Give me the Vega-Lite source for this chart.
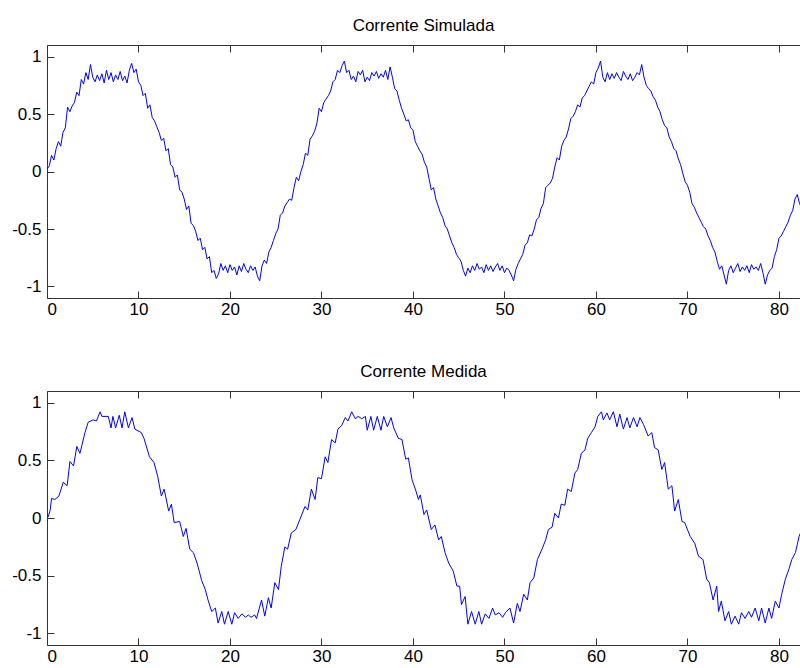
{
  "$schema": "https://vega.github.io/schema/vega-lite/v6.json",
  "background": "white",
  "padding": {"left": 7, "top": 16, "right": 0, "bottom": 0},
  "spacing": 42,
  "config": {
    "view": {"stroke": null},
    "font": "Liberation Sans",
    "axis": {
      "grid": false,
      "domainColor": "#333333",
      "tickColor": "#333333",
      "labelColor": "#000000",
      "labelFont": "Liberation Sans",
      "labelFontSize": 17,
      "tickSize": 7,
      "domainWidth": 1,
      "tickWidth": 1,
      "title": null
    },
    "title": {"font": "Liberation Sans", "fontSize": 17, "fontWeight": "normal", "color": "#000000", "anchor": "middle", "offset": 10}
  },
  "datasets": {
    "sim": [
      {"t":0,"i":0.02},{"t":0.25,"i":0.05},{"t":0.5,"i":0.14},{"t":0.75,"i":0.10},{"t":1.0,"i":0.20},{"t":1.25,"i":0.26},{"t":1.5,"i":0.22},{"t":1.75,"i":0.34},{"t":2.0,"i":0.38},{"t":2.25,"i":0.56},{"t":2.5,"i":0.52},{"t":2.75,"i":0.57},{"t":3.0,"i":0.60},{"t":3.25,"i":0.69},{"t":3.5,"i":0.66},{"t":3.75,"i":0.80},{"t":4.0,"i":0.76},{"t":4.25,"i":0.86},{"t":4.5,"i":0.80},{"t":4.75,"i":0.93},
      {"t":5.0,"i":0.82},{"t":5.25,"i":0.78},{"t":5.5,"i":0.84},{"t":5.75,"i":0.79},{"t":6.0,"i":0.85},{"t":6.25,"i":0.77},{"t":6.5,"i":0.88},{"t":6.75,"i":0.80},{"t":7.0,"i":0.86},{"t":7.25,"i":0.78},{"t":7.5,"i":0.84},{"t":7.75,"i":0.80},{"t":8.0,"i":0.87},{"t":8.25,"i":0.79},{"t":8.5,"i":0.83},{"t":8.75,"i":0.77},{"t":9.0,"i":0.88},{"t":9.25,"i":0.94},{"t":9.5,"i":0.86},{"t":9.75,"i":0.89},
      {"t":10.0,"i":0.78},{"t":10.25,"i":0.75},{"t":10.5,"i":0.66},{"t":10.75,"i":0.68},{"t":11.0,"i":0.55},{"t":11.25,"i":0.58},{"t":11.5,"i":0.47},{"t":11.75,"i":0.44},{"t":12.0,"i":0.39},{"t":12.25,"i":0.34},{"t":12.5,"i":0.27},{"t":12.75,"i":0.29},{"t":13.0,"i":0.18},{"t":13.25,"i":0.20},{"t":13.5,"i":0.06},{"t":13.75,"i":0.04},{"t":14.0,"i":-0.05},{"t":14.25,"i":-0.03},{"t":14.5,"i":-0.16},{"t":14.75,"i":-0.18},
      {"t":15.0,"i":-0.24},{"t":15.25,"i":-0.33},{"t":15.5,"i":-0.30},{"t":15.75,"i":-0.45},{"t":16.0,"i":-0.47},{"t":16.25,"i":-0.52},{"t":16.5,"i":-0.60},{"t":16.75,"i":-0.58},{"t":17.0,"i":-0.68},{"t":17.25,"i":-0.66},{"t":17.5,"i":-0.76},{"t":17.75,"i":-0.74},{"t":18.0,"i":-0.88},{"t":18.25,"i":-0.86},{"t":18.5,"i":-0.93},{"t":18.75,"i":-0.89},{"t":19.0,"i":-0.80},{"t":19.25,"i":-0.86},{"t":19.5,"i":-0.82},{"t":19.75,"i":-0.88},
      {"t":20.0,"i":-0.81},{"t":20.25,"i":-0.86},{"t":20.5,"i":-0.83},{"t":20.75,"i":-0.90},{"t":21.0,"i":-0.82},{"t":21.25,"i":-0.87},{"t":21.5,"i":-0.80},{"t":21.75,"i":-0.85},{"t":22.0,"i":-0.88},{"t":22.25,"i":-0.82},{"t":22.5,"i":-0.86},{"t":22.75,"i":-0.83},{"t":23.0,"i":-0.91},{"t":23.25,"i":-0.95},{"t":23.5,"i":-0.82},{"t":23.75,"i":-0.77},{"t":24.0,"i":-0.80},{"t":24.25,"i":-0.70},{"t":24.5,"i":-0.66},{"t":24.75,"i":-0.60},
      {"t":25.0,"i":-0.54},{"t":25.25,"i":-0.50},{"t":25.5,"i":-0.38},{"t":25.75,"i":-0.36},{"t":26.0,"i":-0.30},{"t":26.25,"i":-0.27},{"t":26.5,"i":-0.24},{"t":26.75,"i":-0.25},{"t":27.0,"i":-0.14},{"t":27.25,"i":-0.05},{"t":27.5,"i":-0.08},{"t":27.75,"i":0.00},
      {"t":28.0,"i":0.06},{"t":28.25,"i":0.16},{"t":28.5,"i":0.14},{"t":28.75,"i":0.28},{"t":29.0,"i":0.31},{"t":29.25,"i":0.35},{"t":29.5,"i":0.42},{"t":29.75,"i":0.55},{"t":30.0,"i":0.52},{"t":30.25,"i":0.60},{"t":30.5,"i":0.63},{"t":30.75,"i":0.66},{"t":31.0,"i":0.70},{"t":31.25,"i":0.78},{"t":31.5,"i":0.80},{"t":31.75,"i":0.88},{"t":32.0,"i":0.86},{"t":32.25,"i":0.92},{"t":32.5,"i":0.96},{"t":32.75,"i":0.86},
      {"t":33.0,"i":0.88},{"t":33.25,"i":0.80},{"t":33.5,"i":0.83},{"t":33.75,"i":0.78},{"t":34.0,"i":0.87},{"t":34.25,"i":0.84},{"t":34.5,"i":0.88},{"t":34.75,"i":0.78},{"t":35.0,"i":0.82},{"t":35.25,"i":0.79},{"t":35.5,"i":0.86},{"t":35.75,"i":0.83},{"t":36.0,"i":0.87},{"t":36.25,"i":0.81},{"t":36.5,"i":0.85},{"t":36.75,"i":0.82},{"t":37.0,"i":0.88},{"t":37.25,"i":0.80},{"t":37.5,"i":0.91},{"t":37.75,"i":0.82},
      {"t":38.0,"i":0.72},{"t":38.25,"i":0.70},{"t":38.5,"i":0.62},{"t":38.75,"i":0.55},{"t":39.0,"i":0.50},{"t":39.25,"i":0.44},{"t":39.5,"i":0.45},{"t":39.75,"i":0.38},{"t":40.0,"i":0.36},{"t":40.25,"i":0.26},{"t":40.5,"i":0.22},{"t":40.75,"i":0.18},{"t":41.0,"i":0.15},{"t":41.25,"i":0.08},{"t":41.5,"i":0.04},{"t":41.75,"i":-0.06},{"t":42.0,"i":-0.16},{"t":42.25,"i":-0.14},{"t":42.5,"i":-0.24},{"t":42.75,"i":-0.30},
      {"t":43.0,"i":-0.36},{"t":43.25,"i":-0.40},{"t":43.5,"i":-0.47},{"t":43.75,"i":-0.50},{"t":44.0,"i":-0.56},{"t":44.25,"i":-0.62},{"t":44.5,"i":-0.66},{"t":44.75,"i":-0.72},{"t":45.0,"i":-0.75},{"t":45.25,"i":-0.78},{"t":45.5,"i":-0.86},{"t":45.75,"i":-0.91},{"t":46.0,"i":-0.84},{"t":46.25,"i":-0.88},{"t":46.5,"i":-0.82},{"t":46.75,"i":-0.86},{"t":47.0,"i":-0.80},{"t":47.25,"i":-0.85},{"t":47.5,"i":-0.83},{"t":47.75,"i":-0.88},
      {"t":48.0,"i":-0.81},{"t":48.25,"i":-0.86},{"t":48.5,"i":-0.82},{"t":48.75,"i":-0.87},{"t":49.0,"i":-0.83},{"t":49.25,"i":-0.80},{"t":49.5,"i":-0.86},{"t":49.75,"i":-0.82},{"t":50.0,"i":-0.88},{"t":50.25,"i":-0.84},{"t":50.5,"i":-0.86},{"t":50.75,"i":-0.90},{"t":51.0,"i":-0.95},{"t":51.25,"i":-0.85},{"t":51.5,"i":-0.80},{"t":51.75,"i":-0.76},{"t":52.0,"i":-0.72},{"t":52.25,"i":-0.64},{"t":52.5,"i":-0.62},{"t":52.75,"i":-0.55},
      {"t":53.0,"i":-0.56},{"t":53.25,"i":-0.50},{"t":53.5,"i":-0.42},{"t":53.75,"i":-0.40},{"t":54.0,"i":-0.32},{"t":54.25,"i":-0.28},{"t":54.5,"i":-0.14},{"t":54.75,"i":-0.12},{"t":55.0,"i":-0.10},{"t":55.25,"i":-0.06},{"t":55.5,"i":0.04},{"t":55.75,"i":0.12},{"t":56.0,"i":0.10},{"t":56.25,"i":0.22},{"t":56.5,"i":0.27},{"t":56.75,"i":0.30},{"t":57.0,"i":0.37},{"t":57.25,"i":0.46},{"t":57.5,"i":0.48},{"t":57.75,"i":0.52},
      {"t":58.0,"i":0.58},{"t":58.25,"i":0.56},{"t":58.5,"i":0.64},{"t":58.75,"i":0.66},{"t":59.0,"i":0.70},{"t":59.25,"i":0.74},{"t":59.5,"i":0.78},{"t":59.75,"i":0.76},{"t":60.0,"i":0.86},{"t":60.25,"i":0.90},{"t":60.5,"i":0.96},{"t":60.75,"i":0.82},{"t":61.0,"i":0.78},{"t":61.25,"i":0.86},{"t":61.5,"i":0.80},{"t":61.75,"i":0.85},{"t":62.0,"i":0.81},{"t":62.25,"i":0.86},{"t":62.5,"i":0.82},{"t":62.75,"i":0.79},
      {"t":63.0,"i":0.87},{"t":63.25,"i":0.83},{"t":63.5,"i":0.80},{"t":63.75,"i":0.85},{"t":64.0,"i":0.79},{"t":64.25,"i":0.82},{"t":64.5,"i":0.86},{"t":64.75,"i":0.84},{"t":65.0,"i":0.93},{"t":65.25,"i":0.82},{"t":65.5,"i":0.75},{"t":65.75,"i":0.72},{"t":66.0,"i":0.70},{"t":66.25,"i":0.65},{"t":66.5,"i":0.62},{"t":66.75,"i":0.56},{"t":67.0,"i":0.52},{"t":67.25,"i":0.45},{"t":67.5,"i":0.40},{"t":67.75,"i":0.38},
      {"t":68.0,"i":0.30},{"t":68.25,"i":0.26},{"t":68.5,"i":0.20},{"t":68.75,"i":0.18},{"t":69.0,"i":0.11},{"t":69.25,"i":0.06},{"t":69.5,"i":-0.02},{"t":69.75,"i":-0.09},{"t":70.0,"i":-0.12},{"t":70.25,"i":-0.18},{"t":70.5,"i":-0.28},{"t":70.75,"i":-0.31},{"t":71.0,"i":-0.36},{"t":71.25,"i":-0.40},{"t":71.5,"i":-0.44},{"t":71.75,"i":-0.48},{"t":72.0,"i":-0.50},{"t":72.25,"i":-0.56},{"t":72.5,"i":-0.60},{"t":72.75,"i":-0.66},
      {"t":73.0,"i":-0.70},{"t":73.25,"i":-0.78},{"t":73.5,"i":-0.85},{"t":73.75,"i":-0.82},{"t":74.0,"i":-0.90},{"t":74.25,"i":-0.98},{"t":74.5,"i":-0.86},{"t":74.75,"i":-0.82},{"t":75.0,"i":-0.88},{"t":75.25,"i":-0.84},{"t":75.5,"i":-0.80},{"t":75.75,"i":-0.87},{"t":76.0,"i":-0.83},{"t":76.25,"i":-0.86},{"t":76.5,"i":-0.82},{"t":76.75,"i":-0.88},{"t":77.0,"i":-0.81},{"t":77.25,"i":-0.85},{"t":77.5,"i":-0.83},{"t":77.75,"i":-0.86},
      {"t":78.0,"i":-0.80},{"t":78.25,"i":-0.88},{"t":78.5,"i":-0.98},{"t":78.75,"i":-0.90},{"t":79.0,"i":-0.86},{"t":79.25,"i":-0.84},{"t":79.5,"i":-0.74},{"t":79.75,"i":-0.68},{"t":80.0,"i":-0.58},{"t":80.25,"i":-0.56},{"t":80.5,"i":-0.52},{"t":80.75,"i":-0.48},{"t":81.0,"i":-0.44},{"t":81.25,"i":-0.38},{"t":81.5,"i":-0.34},{"t":81.75,"i":-0.24},{"t":82.0,"i":-0.20},{"t":82.25,"i":-0.28},{"t":82.5,"i":-0.32}
    ],
    "med": [
      {"t":0,"i":0.02},{"t":0.14,"i":0.01},{"t":0.35,"i":0.07},{"t":0.5,"i":0.17},{"t":0.86,"i":0.16},{"t":1.3,"i":0.19},{"t":1.78,"i":0.31},{"t":2.2,"i":0.28},{"t":2.51,"i":0.49},{"t":2.9,"i":0.45},{"t":3.26,"i":0.62},{"t":3.6,"i":0.56},{"t":4.15,"i":0.74},{"t":4.5,"i":0.83},{"t":5.05,"i":0.85},{"t":5.4,"i":0.84},{"t":5.8,"i":0.92},{"t":6.0,"i":0.88},{"t":6.7,"i":0.88},{"t":7.0,"i":0.78},
      {"t":7.2,"i":0.88},{"t":7.5,"i":0.78},{"t":7.9,"i":0.89},{"t":8.2,"i":0.78},{"t":8.5,"i":0.92},{"t":8.9,"i":0.78},{"t":9.3,"i":0.87},{"t":9.6,"i":0.77},{"t":10.3,"i":0.74},{"t":10.6,"i":0.69},{"t":11.2,"i":0.53},{"t":11.7,"i":0.48},{"t":12.1,"i":0.36},{"t":12.5,"i":0.19},{"t":12.8,"i":0.25},{"t":13.3,"i":0.06},{"t":13.6,"i":0.12},{"t":13.9,"i":-0.04},{"t":14.5,"i":-0.03},{"t":14.9,"i":-0.16},
      {"t":15.2,"i":-0.09},{"t":15.6,"i":-0.27},{"t":16.0,"i":-0.30},{"t":16.4,"i":-0.39},{"t":16.9,"i":-0.54},{"t":17.3,"i":-0.62},{"t":17.6,"i":-0.71},{"t":18.0,"i":-0.81},{"t":18.4,"i":-0.78},{"t":18.7,"i":-0.91},{"t":19.1,"i":-0.81},{"t":19.4,"i":-0.92},{"t":19.8,"i":-0.81},{"t":20.2,"i":-0.92},{"t":20.5,"i":-0.82},{"t":20.9,"i":-0.87},{"t":21.3,"i":-0.83},{"t":21.7,"i":-0.86},{"t":22.0,"i":-0.84},{"t":22.3,"i":-0.86},
      {"t":22.7,"i":-0.84},{"t":22.9,"i":-0.87},{"t":23.45,"i":-0.71},{"t":23.8,"i":-0.85},{"t":24.2,"i":-0.69},{"t":24.5,"i":-0.78},{"t":24.9,"i":-0.56},{"t":25.3,"i":-0.62},{"t":25.6,"i":-0.42},{"t":26.0,"i":-0.25},{"t":26.3,"i":-0.27},{"t":26.7,"i":-0.13},{"t":27.2,"i":-0.10},{"t":27.65,"i":-0.01},{"t":28.2,"i":0.10},{"t":28.5,"i":0.07},{"t":28.9,"i":0.25},{"t":29.3,"i":0.16},{"t":29.6,"i":0.35},{"t":30.0,"i":0.34},
      {"t":30.4,"i":0.53},{"t":30.7,"i":0.48},{"t":31.1,"i":0.68},{"t":31.5,"i":0.65},{"t":31.8,"i":0.77},{"t":32.2,"i":0.80},{"t":32.6,"i":0.87},{"t":32.9,"i":0.84},{"t":33.3,"i":0.92},{"t":33.7,"i":0.86},{"t":34.0,"i":0.88},{"t":34.4,"i":0.86},{"t":34.8,"i":0.88},{"t":35.0,"i":0.76},{"t":35.4,"i":0.88},{"t":35.7,"i":0.76},{"t":36.1,"i":0.88},{"t":36.5,"i":0.76},{"t":36.8,"i":0.88},{"t":37.2,"i":0.79},
      {"t":37.6,"i":0.87},{"t":37.9,"i":0.78},{"t":38.4,"i":0.69},{"t":38.8,"i":0.68},{"t":39.2,"i":0.51},{"t":39.5,"i":0.52},{"t":39.9,"i":0.33},{"t":40.3,"i":0.24},{"t":40.6,"i":0.16},{"t":40.8,"i":0.20},{"t":41.2,"i":0.03},{"t":41.5,"i":0.07},{"t":42.0,"i":-0.10},{"t":42.4,"i":-0.06},{"t":42.8,"i":-0.19},{"t":43.1,"i":-0.16},{"t":43.5,"i":-0.30},{"t":43.9,"i":-0.39},{"t":44.4,"i":-0.46},{"t":44.8,"i":-0.59},
      {"t":45.1,"i":-0.59},{"t":45.3,"i":-0.75},{"t":45.7,"i":-0.68},{"t":46.0,"i":-0.92},{"t":46.4,"i":-0.81},{"t":46.8,"i":-0.92},{"t":47.2,"i":-0.81},{"t":47.5,"i":-0.92},{"t":47.9,"i":-0.83},{"t":48.3,"i":-0.87},{"t":48.7,"i":-0.78},{"t":49.0,"i":-0.84},{"t":49.4,"i":-0.82},{"t":49.8,"i":-0.86},{"t":50.1,"i":-0.82},{"t":50.6,"i":-0.78},{"t":51.0,"i":-0.91},{"t":51.4,"i":-0.74},{"t":51.7,"i":-0.81},{"t":52.1,"i":-0.66},
      {"t":52.5,"i":-0.71},{"t":52.8,"i":-0.56},{"t":53.2,"i":-0.52},{"t":53.6,"i":-0.36},{"t":54.1,"i":-0.27},{"t":54.5,"i":-0.19},{"t":54.8,"i":-0.10},{"t":55.2,"i":-0.08},{"t":55.5,"i":0.04},{"t":55.9,"i":0.00},{"t":56.2,"i":0.12},{"t":56.6,"i":0.11},{"t":56.9,"i":0.25},{"t":57.3,"i":0.23},{"t":57.7,"i":0.39},{"t":58.0,"i":0.42},{"t":58.4,"i":0.56},{"t":58.8,"i":0.59},{"t":59.1,"i":0.69},{"t":59.5,"i":0.74},
      {"t":59.9,"i":0.79},{"t":60.2,"i":0.88},{"t":60.6,"i":0.92},{"t":60.8,"i":0.85},{"t":61.2,"i":0.91},{"t":61.5,"i":0.85},{"t":61.9,"i":0.92},{"t":62.3,"i":0.79},{"t":62.6,"i":0.90},{"t":63.0,"i":0.77},{"t":63.4,"i":0.87},{"t":63.7,"i":0.78},{"t":64.1,"i":0.87},{"t":64.5,"i":0.79},{"t":64.8,"i":0.87},{"t":65.2,"i":0.81},{"t":65.7,"i":0.71},{"t":66.1,"i":0.74},{"t":66.4,"i":0.61},{"t":66.8,"i":0.59},
      {"t":67.2,"i":0.42},{"t":67.5,"i":0.48},{"t":67.9,"i":0.25},{"t":68.3,"i":0.28},{"t":68.6,"i":0.06},{"t":69.0,"i":0.16},{"t":69.4,"i":-0.03},{"t":69.7,"i":-0.04},{"t":70.3,"i":-0.16},{"t":70.8,"i":-0.22},{"t":71.2,"i":-0.33},{"t":71.7,"i":-0.36},{"t":72.1,"i":-0.53},{"t":72.4,"i":-0.56},{"t":72.8,"i":-0.71},{"t":73.2,"i":-0.59},{"t":73.4,"i":-0.81},{"t":73.7,"i":-0.72},{"t":74.1,"i":-0.89},{"t":74.5,"i":-0.81},
      {"t":74.8,"i":-0.92},{"t":75.2,"i":-0.85},{"t":75.6,"i":-0.92},{"t":75.9,"i":-0.82},{"t":76.3,"i":-0.87},{"t":76.7,"i":-0.81},{"t":77.0,"i":-0.86},{"t":77.4,"i":-0.78},{"t":77.8,"i":-0.89},{"t":78.1,"i":-0.78},{"t":78.5,"i":-0.91},{"t":78.9,"i":-0.78},{"t":79.2,"i":-0.87},{"t":79.6,"i":-0.72},{"t":80.0,"i":-0.78},{"t":80.3,"i":-0.66},{"t":80.7,"i":-0.53},{"t":81.1,"i":-0.44},{"t":81.4,"i":-0.36},{"t":81.8,"i":-0.30},
      {"t":82.2,"i":-0.16},{"t":82.5,"i":-0.10}
    ]
  },
  "vconcat": [
    {
      "title": "Corrente Simulada",
      "width": 753,
      "height": 253,
      "data": {"name": "sim"},
      "layer": [
        {
          "mark": {"type": "line", "color": "#0000ff", "strokeWidth": 1, "clip": true},
          "encoding": {
            "x": {"field": "t", "type": "quantitative", "scale": {"domain": [0, 82.3], "nice": false, "zero": false},
                  "axis": {"orient": "bottom", "values": [0,10,20,30,40,50,60,70,80], "ticks": false, "labelPadding": 3, "minExtent": 22, "maxExtent": 22}},
            "y": {"field": "i", "type": "quantitative", "scale": {"domain": [-1.1, 1.1], "nice": false, "zero": false},
                  "axis": {"orient": "left", "values": [-1,-0.5,0,0.5,1], "ticks": false, "labelPadding": 6, "minExtent": 40, "maxExtent": 40, "labelExpr": "datum.value < 0 ? '-' + format(-datum.value, '~g') : format(datum.value, '~g')"}}
          }
        },
        {
          "mark": {"type": "point", "opacity": 0},
          "encoding": {
            "x": {"field": "t", "type": "quantitative", "scale": {"domain": [0, 82.3], "nice": false, "zero": false},
                  "axis": {"orient": "bottom", "values": [0,10,20,30,40,50,60,70,80], "domain": false, "labels": false, "ticks": true, "offset": -7, "minExtent": 0, "maxExtent": 0}},
            "y": {"field": "i", "type": "quantitative", "scale": {"domain": [-1.1, 1.1], "nice": false, "zero": false},
                  "axis": {"orient": "left", "values": [-1,-0.5,0,0.5,1], "domain": false, "labels": false, "ticks": true, "offset": -7, "minExtent": 0, "maxExtent": 0}}
          }
        },
        {
          "mark": {"type": "point", "opacity": 0},
          "encoding": {
            "x": {"field": "t", "type": "quantitative", "scale": {"domain": [0, 82.3], "nice": false, "zero": false},
                  "axis": {"orient": "top", "values": [0,10,20,30,40,50,60,70,80], "domain": true, "labels": false, "ticks": false, "minExtent": 0, "maxExtent": 0}},
            "y": {"field": "i", "type": "quantitative", "scale": {"domain": [-1.1, 1.1], "nice": false, "zero": false}, "axis": null}
          }
        },
        {
          "mark": {"type": "point", "opacity": 0},
          "encoding": {
            "x": {"field": "t", "type": "quantitative", "scale": {"domain": [0, 82.3], "nice": false, "zero": false},
                  "axis": {"orient": "top", "values": [0,10,20,30,40,50,60,70,80], "domain": false, "labels": false, "ticks": true, "offset": -7, "minExtent": 0, "maxExtent": 0}},
            "y": {"field": "i", "type": "quantitative", "scale": {"domain": [-1.1, 1.1], "nice": false, "zero": false}, "axis": null}
          }
        }
      ],
      "resolve": {"axis": {"x": "independent", "y": "independent"}}
    },
    {
      "title": "Corrente Medida",
      "width": 753,
      "height": 254,
      "data": {"name": "med"},
      "layer": [
        {
          "mark": {"type": "line", "color": "#0000ff", "strokeWidth": 1, "clip": true},
          "encoding": {
            "x": {"field": "t", "type": "quantitative", "scale": {"domain": [0, 82.3], "nice": false, "zero": false},
                  "axis": {"orient": "bottom", "values": [0,10,20,30,40,50,60,70,80], "ticks": false, "labelPadding": 3, "minExtent": 18, "maxExtent": 18}},
            "y": {"field": "i", "type": "quantitative", "scale": {"domain": [-1.1, 1.1], "nice": false, "zero": false},
                  "axis": {"orient": "left", "values": [-1,-0.5,0,0.5,1], "ticks": false, "labelPadding": 6, "minExtent": 40, "maxExtent": 40, "labelExpr": "datum.value < 0 ? '-' + format(-datum.value, '~g') : format(datum.value, '~g')"}}
          }
        },
        {
          "mark": {"type": "point", "opacity": 0},
          "encoding": {
            "x": {"field": "t", "type": "quantitative", "scale": {"domain": [0, 82.3], "nice": false, "zero": false},
                  "axis": {"orient": "bottom", "values": [0,10,20,30,40,50,60,70,80], "domain": false, "labels": false, "ticks": true, "offset": -7, "minExtent": 0, "maxExtent": 0}},
            "y": {"field": "i", "type": "quantitative", "scale": {"domain": [-1.1, 1.1], "nice": false, "zero": false},
                  "axis": {"orient": "left", "values": [-1,-0.5,0,0.5,1], "domain": false, "labels": false, "ticks": true, "offset": -7, "minExtent": 0, "maxExtent": 0}}
          }
        },
        {
          "mark": {"type": "point", "opacity": 0},
          "encoding": {
            "x": {"field": "t", "type": "quantitative", "scale": {"domain": [0, 82.3], "nice": false, "zero": false},
                  "axis": {"orient": "top", "values": [0,10,20,30,40,50,60,70,80], "domain": true, "labels": false, "ticks": false, "minExtent": 0, "maxExtent": 0}},
            "y": {"field": "i", "type": "quantitative", "scale": {"domain": [-1.1, 1.1], "nice": false, "zero": false}, "axis": null}
          }
        },
        {
          "mark": {"type": "point", "opacity": 0},
          "encoding": {
            "x": {"field": "t", "type": "quantitative", "scale": {"domain": [0, 82.3], "nice": false, "zero": false},
                  "axis": {"orient": "top", "values": [0,10,20,30,40,50,60,70,80], "domain": false, "labels": false, "ticks": true, "offset": -7, "minExtent": 0, "maxExtent": 0}},
            "y": {"field": "i", "type": "quantitative", "scale": {"domain": [-1.1, 1.1], "nice": false, "zero": false}, "axis": null}
          }
        }
      ],
      "resolve": {"axis": {"x": "independent", "y": "independent"}}
    }
  ]
}
